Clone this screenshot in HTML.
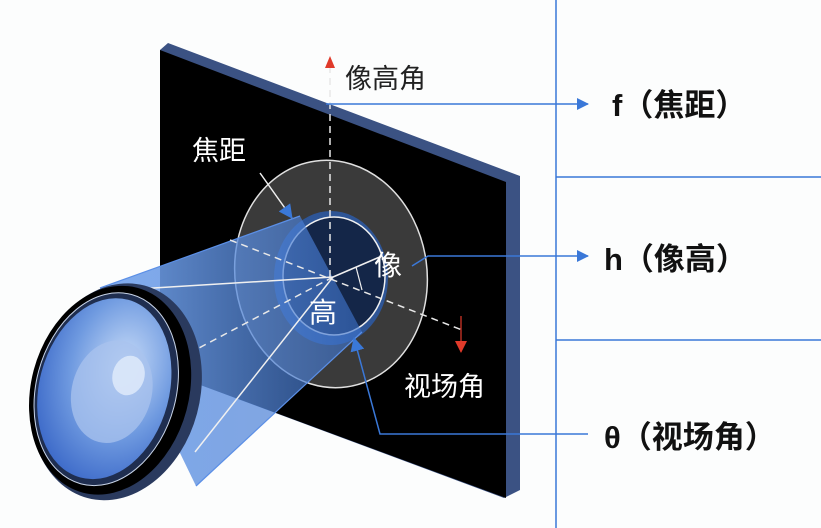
<!DOCTYPE html>
<html><head><meta charset="utf-8"><style>
html,body{margin:0;padding:0;background:#fcfdfd;}
svg{display:block}
text{font-family:"Liberation Sans","Noto Sans CJK SC",sans-serif;}
</style></head><body>
<svg width="821" height="528" viewBox="0 0 821 528" xmlns="http://www.w3.org/2000/svg">
<defs>
<marker id="ab" markerWidth="12" markerHeight="12" refX="11" refY="6" orient="auto" markerUnits="userSpaceOnUse"><path d="M0,0 L12,6 L0,12 z" fill="#3a78d8"/></marker>
<marker id="ar" markerWidth="12" markerHeight="12" refX="11" refY="6" orient="auto" markerUnits="userSpaceOnUse"><path d="M0,0 L12,6 L0,12 z" fill="#e03a2a"/></marker>
<marker id="aw" markerWidth="14" markerHeight="14" refX="13" refY="7" orient="auto" markerUnits="userSpaceOnUse"><path d="M0,0 L14,7 L0,14 z" fill="#3a78d8"/></marker>
<linearGradient id="cone" x1="0" y1="0" x2="1" y2="0"><stop offset="0" stop-color="#7aa8ee" stop-opacity="0.95"/><stop offset="1" stop-color="#3c72cc" stop-opacity="0.6"/></linearGradient>
<radialGradient id="glass" cx="0.6" cy="0.35" r="0.8"><stop offset="0" stop-color="#c8dcf8"/><stop offset="0.5" stop-color="#6f9ae0"/><stop offset="1" stop-color="#2a58c0"/></radialGradient>
</defs>
<line x1="556" y1="0" x2="556" y2="528" stroke="#3a78d8" stroke-width="1.5"/>
<line x1="556" y1="177" x2="821" y2="177" stroke="#3a78d8" stroke-width="1.5"/>
<line x1="556" y1="340" x2="821" y2="340" stroke="#3a78d8" stroke-width="1.5"/>
<polygon points="168,43 520,176 520,490 504,498 160,370 160,50" fill="#3b5283"/>
<polygon points="160,50 506,182 506,498 160,370" fill="#000"/>
<ellipse cx="331" cy="274" rx="96" ry="114" fill="#3a3a3a" stroke="#e0e0e0" stroke-width="1.5" transform="rotate(-8 331 274)"/>
<ellipse cx="331" cy="278" rx="57" ry="67" fill="#2e5596"/>
<ellipse cx="334" cy="276" rx="51" ry="59" fill="#142648" stroke="#f0f0f0" stroke-width="1.5"/>
<polygon points="100,288 300,216 362,332 196,486" fill="url(#cone)"/>
<line x1="100" y1="288" x2="300" y2="216" stroke="#5b8fe6" stroke-width="1.2"/>
<line x1="196" y1="486" x2="362" y2="332" stroke="#5b8fe6" stroke-width="1.2"/>
<line x1="330" y1="66" x2="330" y2="277" stroke="#e8e8e8" stroke-width="1.5" stroke-dasharray="7,5"/>
<polygon points="330,56 325,68 335,68" fill="#e03a2a"/>
<line x1="230" y1="240" x2="462" y2="330" stroke="#e8e8e8" stroke-width="1.5" stroke-dasharray="7,5"/>
<line x1="333" y1="277" x2="180" y2="358" stroke="#e8e8e8" stroke-width="1.5" stroke-dasharray="7,5"/>
<line x1="461" y1="316" x2="461" y2="352" stroke="#e03a2a" stroke-width="1.2" marker-end="url(#ar)"/>
<line x1="120" y1="290" x2="333" y2="277" stroke="#f0f0f0" stroke-width="1.5"/>
<line x1="195" y1="452" x2="333" y2="277" stroke="#f0f0f0" stroke-width="1.5"/>
<line x1="333" y1="277" x2="382" y2="256" stroke="#f0f0f0" stroke-width="1.5"/>
<path d="M356,267 L362,290" stroke="#f0f0f0" fill="none" stroke-width="1.2"/>
<line x1="260" y1="173" x2="292" y2="218" stroke="#f0f0f0" stroke-width="1.5" marker-end="url(#aw)"/>
<g transform="rotate(15 113 391)">
<ellipse cx="116" cy="391" rx="84" ry="110" fill="#2a3a5e"/>
<ellipse cx="110" cy="391" rx="79" ry="106" fill="#000"/>
<ellipse cx="106" cy="391" rx="70" ry="98" fill="#1f2e50" stroke="#c8d4e8" stroke-width="1"/>
<ellipse cx="104" cy="391" rx="65" ry="92" fill="url(#glass)"/>
<ellipse cx="112" cy="392" rx="40" ry="52" fill="#a9c3ee" opacity="0.75"/>
<ellipse cx="124" cy="372" rx="16" ry="20" fill="#dce8fa" opacity="0.9"/>
</g>
<line x1="326" y1="104" x2="588" y2="104" stroke="#3a78d8" stroke-width="1.5" marker-end="url(#ab)"/>
<polyline points="412,266 428,256 588,256" fill="none" stroke="#3a78d8" stroke-width="1.5" marker-end="url(#ab)"/>
<polyline points="588,434 380,434 354,338" fill="none" stroke="#3a78d8" stroke-width="1.5" marker-end="url(#aw)"/>
<text x="345" y="88" font-size="27" fill="#222">像高角</text>
<text x="192" y="160" font-size="27" fill="#fff">焦距</text>
<text x="374" y="275" font-size="28" fill="#fff">像</text>
<text x="309" y="322" font-size="28" fill="#fff">高</text>
<text x="404" y="396" font-size="27" fill="#fff">视场角</text>
<text x="612" y="116" font-size="31" font-weight="bold" fill="#111">f（焦距）</text>
<text x="604" y="270" font-size="31" font-weight="bold" fill="#111">h（像高）</text>
<text x="604" y="448" font-size="31" font-weight="bold" fill="#111">θ（视场角）</text>
</svg>
</body></html>
